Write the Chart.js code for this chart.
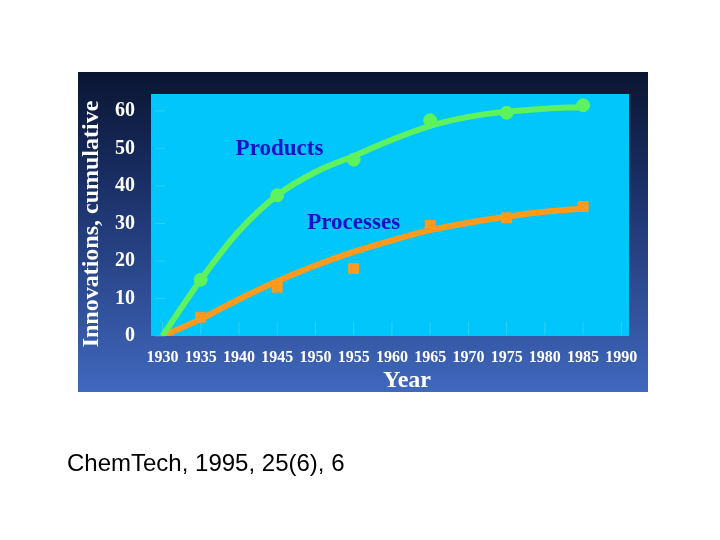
<!DOCTYPE html>
<html>
<head>
<meta charset="utf-8">
<script src="https://cdn.jsdelivr.net/npm/chart.js@4.4.1/dist/chart.umd.min.js"></script>
<style>
    body { margin: 0; background: #fff; }
    #wrap { position: relative; width: 720px; height: 540px; }
    #source {
        position: absolute; left: 67px; top: 449px;
        font-family: "Liberation Sans", Arial, sans-serif; font-size: 24px; color: #000;
    }
</style>
</head>
<body>
<div id="wrap">
    <canvas id="innovChart" width="720" height="540"></canvas>
    <div id="source">ChemTech, 1995, 25(6), 6</div>
</div>
<script>
// observed points
const years = [1935, 1945, 1955, 1965, 1975, 1985];
const products = [15, 37.5, 47, 57.5, 59.5, 61.5];
const processes = [5, 13, 18, 29.5, 31.5, 34.5];

// hand-drawn fit curves
const fitYears = [1930, 1935, 1940, 1945, 1950, 1955, 1960, 1965, 1970, 1975, 1980, 1985];
const productsFit = [0, 15, 28, 37.5, 43.7, 48, 52.3, 56, 58.4, 59.8, 60.6, 61];
const processesFit = [0, 4.5, 9.8, 14.6, 18.8, 22.4, 25.5, 28.2, 30.2, 31.8, 33.1, 34];

const xTicks = [1930, 1935, 1940, 1945, 1950, 1955, 1960, 1965, 1970, 1975, 1980, 1985, 1990];
const yTicks = [0, 10, 20, 30, 40, 50, 60];

const serif = '"Liberation Serif", "Times New Roman", serif';
const toXY = (xs, ys) => xs.map((x, i) => ({ x, y: ys[i] }));

const backdrop = {
    id: 'backdrop',
    beforeDraw(chart) {
        const { ctx, chartArea: a, scales } = chart;
        ctx.save();
        const g = ctx.createLinearGradient(0, 72, 0, 392);
        g.addColorStop(0, '#0a1531');
        g.addColorStop(0.35, '#1a2f66');
        g.addColorStop(1, '#4068be');
        ctx.fillStyle = g;
        ctx.fillRect(78, 72, 570, 320);
        ctx.fillStyle = '#00c6fb';
        ctx.fillRect(a.left, a.top, a.right - a.left, a.bottom - a.top);
        // faint tick marks inside the plot
        ctx.strokeStyle = 'rgba(160,230,255,0.3)';
        ctx.lineWidth = 1;
        yTicks.forEach(v => {
            const y = scales.y.getPixelForValue(v);
            ctx.beginPath(); ctx.moveTo(a.left + 4, y); ctx.lineTo(a.left + 14, y); ctx.stroke();
        });
        xTicks.forEach(v => {
            const x = scales.x.getPixelForValue(v);
            ctx.beginPath(); ctx.moveTo(x, a.bottom - 1); ctx.lineTo(x, a.bottom - 14); ctx.stroke();
        });
        ctx.restore();
    },
    afterDraw(chart) {
        const { ctx, scales } = chart;
        ctx.save();
        ctx.textAlign = 'center';
        ctx.textBaseline = 'middle';
        ctx.font = 'bold 23px ' + serif;
        ctx.fillStyle = '#1212c8';
        ctx.fillText('Products', scales.x.getPixelForValue(1945.3), scales.y.getPixelForValue(49.8));
        ctx.fillText('Processes', scales.x.getPixelForValue(1955), scales.y.getPixelForValue(30));
        ctx.fillStyle = '#ffffff';
        ctx.font = 'bold 24px ' + serif;
        ctx.fillText('Year', 407, 381);
        ctx.translate(92, 224);
        ctx.rotate(-Math.PI / 2);
        ctx.fillText('Innovations, cumulative', 0, 0);
        ctx.restore();
    }
};

new Chart(document.getElementById('innovChart'), {
    type: 'scatter',
    data: {
        datasets: [
            {
                label: 'Products fit', type: 'line', data: toXY(fitYears, productsFit),
                borderColor: '#5ef25e', borderWidth: 6, pointRadius: 0,
                cubicInterpolationMode: 'monotone', order: 3,
            },
            {
                label: 'Processes fit', type: 'line', data: toXY(fitYears, processesFit),
                borderColor: '#ff9a1c', borderWidth: 6, pointRadius: 0,
                cubicInterpolationMode: 'monotone', order: 3,
            },
            {
                label: 'Products', data: toXY(years, products),
                backgroundColor: '#5ef25e', borderColor: '#5ef25e',
                pointRadius: 6.5, pointStyle: 'circle', order: 1,
            },
            {
                label: 'Processes', data: toXY(years, processes),
                backgroundColor: '#ff9a1c', borderColor: '#ff9a1c', borderWidth: 1,
                pointRadius: 7, pointStyle: 'rect', order: 1,
            },
        ]
    },
    options: {
        responsive: false,
        animation: false,
        layout: { padding: { left: 78, top: 94, right: 91, bottom: 148 } },
        plugins: { legend: { display: false }, tooltip: { enabled: false } },
        scales: {
            x: {
                type: 'linear', min: 1928.5, max: 1991,
                afterFit: s => { s.height = 56; },
                afterBuildTicks: s => { s.ticks = xTicks.map(v => ({ value: v })); },
                grid: { display: false },
                border: { display: false },
                ticks: {
                    color: '#ffffff', padding: 4, maxRotation: 0, autoSkip: false,
                    font: { family: serif, size: 16, weight: 'bold' },
                    callback: v => String(v),
                },
            },
            y: {
                min: 0, max: 64.5,
                afterFit: s => { s.width = 73; },
                afterBuildTicks: s => { s.ticks = yTicks.map(v => ({ value: v })); },
                grid: { display: false },
                border: { display: false },
                ticks: {
                    color: '#ffffff', padding: 8,
                    font: { family: serif, size: 20, weight: 'bold' },
                },
            },
        }
    },
    plugins: [backdrop]
});
</script>
</body>
</html>
